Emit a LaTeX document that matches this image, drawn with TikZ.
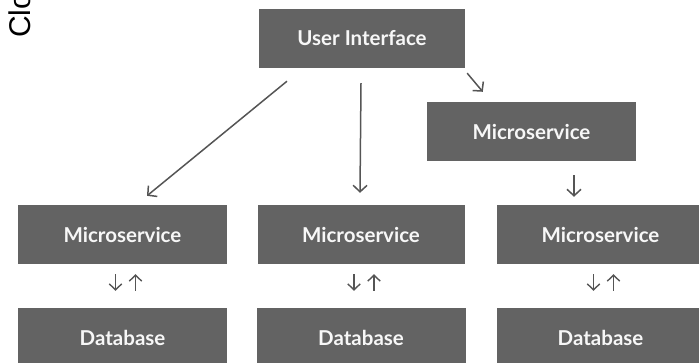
\documentclass[tikz,border=0pt]{standalone}
\usepackage{fontspec}
\setmainfont{Liberation Sans}
\newfontfamily\latofont{Lato}
\usetikzlibrary{arrows.meta,calc}
\definecolor{boxgray}{HTML}{636363}
\definecolor{arrgray}{HTML}{555555}
\definecolor{txtwhite}{HTML}{F7F7F7}
\begin{document}
\begin{tikzpicture}[x=1pt,y=-1pt,
  box/.style={fill=boxgray, draw=none, minimum height=59pt, inner sep=0pt,
    text=txtwhite, font=\latofont\bfseries\fontsize{20.5}{24}\selectfont},
  arr/.style={draw=arrgray, line width=1.5pt, -{Straight Barb[length=6.5pt,width=14pt]}},
  arrsmall/.style={draw=arrgray, line width=1.4pt, -{Straight Barb[length=6pt,width=12.5pt]}}]
\useasboundingbox (0,0) rectangle (699,362);
\clip (0,0) rectangle (699,362);

\node[rotate=90, anchor=base west, inner sep=0pt, font=\fontsize{30}{30}\selectfont, text=black] (title) at (30,38) {Clo};

\node[box, minimum width=206pt] (ui)  at (362,38.5) {User Interface};
\node[box, minimum width=209pt] (ms3) at (531.5,131.5) {Microservice};

\node[box, minimum width=209pt] (ms1) at (122.5,234.5) {Microservice};
\node[box, minimum width=207pt] (ms2) at (361,234.5) {Microservice};
\node[box, minimum width=207pt] (ms4) at (600.5,234.5) {Microservice};

\node[box, minimum width=209pt] (db1) at (122.5,337.5) {Database};
\node[box, minimum width=209pt] (db2) at (361,337.5) {Database};
\node[box, minimum width=207pt] (db4) at (600.5,337.5) {Database};

\draw[arr] ($(ui.south)+(-75,13)$) -- ($(ms1.north)+(24.5,-9)$);
\draw[arr] ($(ui.south)+(-1,15)$) -- ($(ms2.north)+(-1,-12)$);
\draw[arr] ($(ui.south east)+(2,5)$) -- ($(ms3.north west)+(56,-10)$);
\draw[arr] ($(ms3.south)+(42.5,14)$) -- ($(ms4.north)+(-26.5,-8)$);

\foreach \m/\d in {ms1/db1, ms2/db2, ms4/db4}{
  \draw[arrsmall] ($(\m.south)+(-7,10)$) -- ($(\d.north)+(-7,-17)$);
  \draw[arrsmall] ($(\d.north)+(13,-17)$) -- ($(\m.south)+(13,10)$);
}
\end{tikzpicture}
\end{document}
